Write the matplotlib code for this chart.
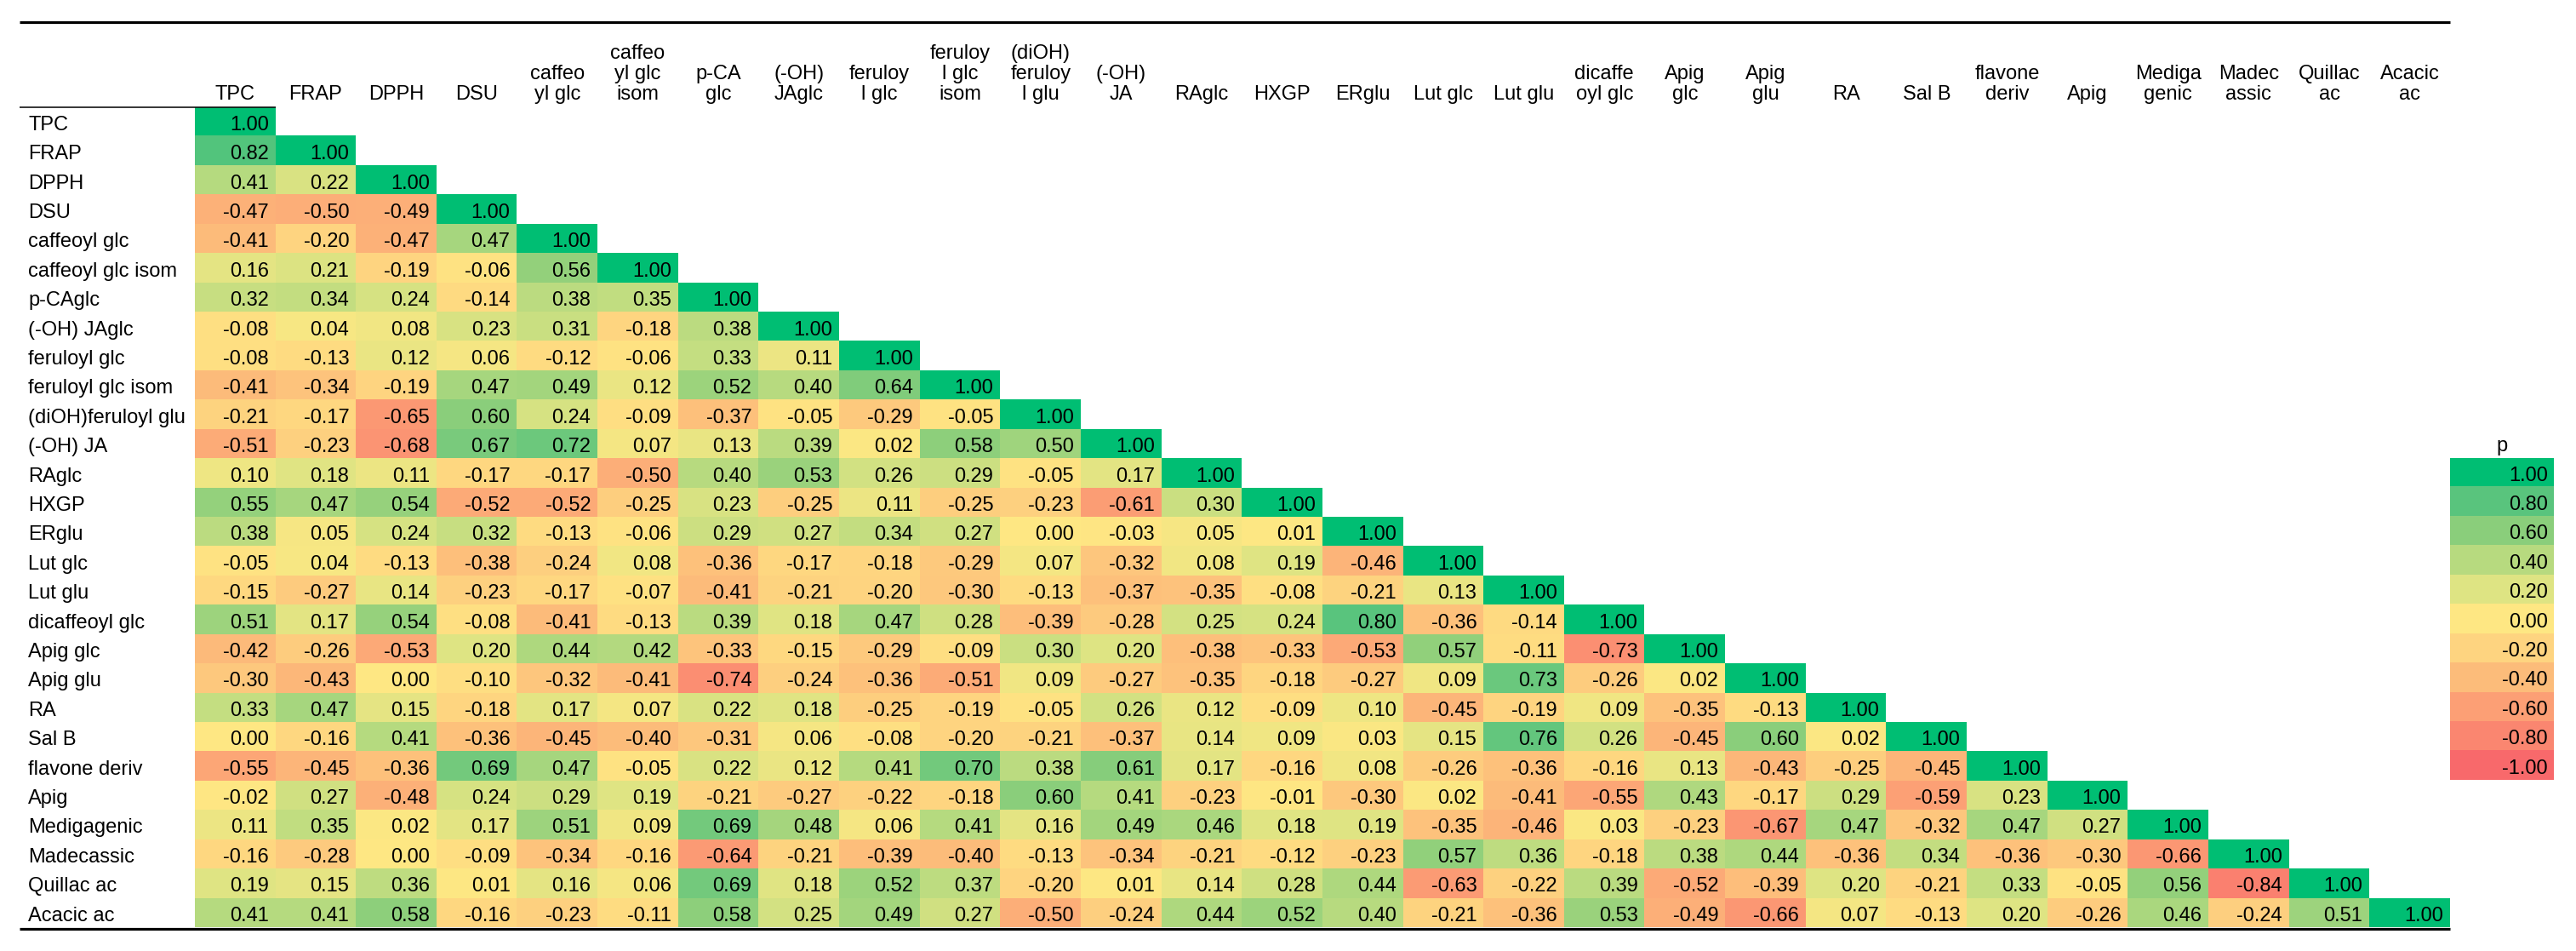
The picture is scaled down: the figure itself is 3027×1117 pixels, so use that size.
import numpy as np
import matplotlib
matplotlib.use("Agg")
import matplotlib.pyplot as plt
from matplotlib.colors import LinearSegmentedColormap, Normalize

plt.rcParams['font.family'] = ['Liberation Sans', 'DejaVu Sans']

# variable names (rows) and the wrapped header text (columns)
row_labels = ["TPC", "FRAP", "DPPH", "DSU", "caffeoyl glc", "caffeoyl glc isom",
              "p-CAglc", "(-OH) JAglc", "feruloyl glc", "feruloyl glc isom",
              "(diOH)feruloyl glu", "(-OH) JA", "RAglc", "HXGP", "ERglu",
              "Lut glc", "Lut glu", "dicaffeoyl glc", "Apig glc", "Apig glu",
              "RA", "Sal B", "flavone deriv", "Apig", "Medigagenic",
              "Madecassic", "Quillac ac", "Acacic ac"]

col_labels = ["TPC", "FRAP", "DPPH", "DSU", "caffeo\nyl glc", "caffeo\nyl glc\nisom",
              "p-CA\nglc", "(-OH)\nJAglc", "feruloy\nl glc", "feruloy\nl glc\nisom",
              "(diOH)\nferuloy\nl glu", "(-OH)\nJA", "RAglc", "HXGP", "ERglu",
              "Lut glc", "Lut glu", "dicaffe\noyl glc", "Apig\nglc", "Apig\nglu",
              "RA", "Sal B", "flavone\nderiv", "Apig", "Mediga\ngenic",
              "Madec\nassic", "Quillac\nac", "Acacic\nac"]

# lower triangle of the correlation table, one list per row
lower_tri = [
    [1.00],
    [0.82, 1.00],
    [0.41, 0.22, 1.00],
    [-0.47, -0.50, -0.49, 1.00],
    [-0.41, -0.20, -0.47, 0.47, 1.00],
    [0.16, 0.21, -0.19, -0.06, 0.56, 1.00],
    [0.32, 0.34, 0.24, -0.14, 0.38, 0.35, 1.00],
    [-0.08, 0.04, 0.08, 0.23, 0.31, -0.18, 0.38, 1.00],
    [-0.08, -0.13, 0.12, 0.06, -0.12, -0.06, 0.33, 0.11, 1.00],
    [-0.41, -0.34, -0.19, 0.47, 0.49, 0.12, 0.52, 0.40, 0.64, 1.00],
    [-0.21, -0.17, -0.65, 0.60, 0.24, -0.09, -0.37, -0.05, -0.29, -0.05, 1.00],
    [-0.51, -0.23, -0.68, 0.67, 0.72, 0.07, 0.13, 0.39, 0.02, 0.58, 0.50, 1.00],
    [0.10, 0.18, 0.11, -0.17, -0.17, -0.50, 0.40, 0.53, 0.26, 0.29, -0.05, 0.17, 1.00],
    [0.55, 0.47, 0.54, -0.52, -0.52, -0.25, 0.23, -0.25, 0.11, -0.25, -0.23, -0.61, 0.30, 1.00],
    [0.38, 0.05, 0.24, 0.32, -0.13, -0.06, 0.29, 0.27, 0.34, 0.27, 0.00, -0.03, 0.05, 0.01, 1.00],
    [-0.05, 0.04, -0.13, -0.38, -0.24, 0.08, -0.36, -0.17, -0.18, -0.29, 0.07, -0.32, 0.08, 0.19,
     -0.46, 1.00],
    [-0.15, -0.27, 0.14, -0.23, -0.17, -0.07, -0.41, -0.21, -0.20, -0.30, -0.13, -0.37, -0.35, -0.08,
     -0.21, 0.13, 1.00],
    [0.51, 0.17, 0.54, -0.08, -0.41, -0.13, 0.39, 0.18, 0.47, 0.28, -0.39, -0.28, 0.25, 0.24,
     0.80, -0.36, -0.14, 1.00],
    [-0.42, -0.26, -0.53, 0.20, 0.44, 0.42, -0.33, -0.15, -0.29, -0.09, 0.30, 0.20, -0.38, -0.33,
     -0.53, 0.57, -0.11, -0.73, 1.00],
    [-0.30, -0.43, 0.00, -0.10, -0.32, -0.41, -0.74, -0.24, -0.36, -0.51, 0.09, -0.27, -0.35, -0.18,
     -0.27, 0.09, 0.73, -0.26, 0.02, 1.00],
    [0.33, 0.47, 0.15, -0.18, 0.17, 0.07, 0.22, 0.18, -0.25, -0.19, -0.05, 0.26, 0.12, -0.09,
     0.10, -0.45, -0.19, 0.09, -0.35, -0.13, 1.00],
    [0.00, -0.16, 0.41, -0.36, -0.45, -0.40, -0.31, 0.06, -0.08, -0.20, -0.21, -0.37, 0.14, 0.09,
     0.03, 0.15, 0.76, 0.26, -0.45, 0.60, 0.02, 1.00],
    [-0.55, -0.45, -0.36, 0.69, 0.47, -0.05, 0.22, 0.12, 0.41, 0.70, 0.38, 0.61, 0.17, -0.16,
     0.08, -0.26, -0.36, -0.16, 0.13, -0.43, -0.25, -0.45, 1.00],
    [-0.02, 0.27, -0.48, 0.24, 0.29, 0.19, -0.21, -0.27, -0.22, -0.18, 0.60, 0.41, -0.23, -0.01,
     -0.30, 0.02, -0.41, -0.55, 0.43, -0.17, 0.29, -0.59, 0.23, 1.00],
    [0.11, 0.35, 0.02, 0.17, 0.51, 0.09, 0.69, 0.48, 0.06, 0.41, 0.16, 0.49, 0.46, 0.18,
     0.19, -0.35, -0.46, 0.03, -0.23, -0.67, 0.47, -0.32, 0.47, 0.27, 1.00],
    [-0.16, -0.28, 0.00, -0.09, -0.34, -0.16, -0.64, -0.21, -0.39, -0.40, -0.13, -0.34, -0.21, -0.12,
     -0.23, 0.57, 0.36, -0.18, 0.38, 0.44, -0.36, 0.34, -0.36, -0.30, -0.66, 1.00],
    [0.19, 0.15, 0.36, 0.01, 0.16, 0.06, 0.69, 0.18, 0.52, 0.37, -0.20, 0.01, 0.14, 0.28,
     0.44, -0.63, -0.22, 0.39, -0.52, -0.39, 0.20, -0.21, 0.33, -0.05, 0.56, -0.84, 1.00],
    [0.41, 0.41, 0.58, -0.16, -0.23, -0.11, 0.58, 0.25, 0.49, 0.27, -0.50, -0.24, 0.44, 0.52,
     0.40, -0.21, -0.36, 0.53, -0.49, -0.66, 0.07, -0.13, 0.20, -0.26, 0.46, -0.24, 0.51, 1.00],
]

legend_values = [1.00, 0.80, 0.60, 0.40, 0.20, 0.00, -0.20, -0.40, -0.60, -0.80, -1.00]

# colour scale picked off the legend swatches (red -> yellow -> green)
scale_colors = ["#F8696B", "#FB8771", "#FC9F75", "#FDBD7B", "#FED480", "#FFE884",
                "#DEE483", "#B8DB80", "#8ACE7B", "#5BC57E", "#00BE73"]
cmap = LinearSegmentedColormap.from_list("rdylgn_xl", scale_colors)
norm = Normalize(-1, 1)

n = len(row_labels)
corr = np.full((n, n), np.nan)
for i, row in enumerate(lower_tri):
    corr[i, :len(row)] = row
corr = np.ma.masked_invalid(corr)

# page geometry in pixels
W, H = 3027, 1117
x0, x1 = 229, 2879
y0, y1 = 125.7, 1089
cw = (x1 - x0) / n
rh = (y1 - y0) / n
fs = 17

fig = plt.figure(figsize=(W / 100, H / 100), dpi=100)
ax = fig.add_axes([x0 / W, 1 - y1 / H, (x1 - x0) / W, (y1 - y0) / H])
ax.imshow(corr, cmap=cmap, norm=norm, aspect='auto', interpolation='nearest',
          extent=(-0.5, n - 0.5, n - 0.5, -0.5))
ax.set_xlim(-0.5, n - 0.5)
ax.set_ylim(n - 0.5, -0.5)
ax.axis('off')

for i in range(n):
    for j in range(len(lower_tri[i])):
        ax.text(j + 0.5 - 8 / cw, i + 0.285, f"{lower_tri[i][j]:.2f}",
                ha='right', va='baseline', fontsize=fs)

left = -0.5 - (x0 - 33) / cw
for i, lab in enumerate(row_labels):
    ax.text(left, i + 0.285, lab, ha='left', va='baseline', fontsize=fs, clip_on=False)

head_y = -0.5 - (y0 - 117) / rh
for j, lab in enumerate(col_labels):
    ax.text(j, head_y, lab, ha='center', va='baseline', fontsize=fs,
            linespacing=1.12, multialignment='center', clip_on=False)

# table rules
line_x0 = -0.5 - (x0 - 23) / cw
top_y = -0.5 - (y0 - 26) / rh
ax.plot([line_x0, n - 0.5], [top_y, top_y], color='black', lw=2.3,
        solid_capstyle='butt', clip_on=False)
ax.plot([line_x0, 0.5], [-0.5, -0.5], color='black', lw=1.1,
        solid_capstyle='butt', clip_on=False)
ax.plot([line_x0, n - 0.5], [n - 0.5 + 1.5 / rh, n - 0.5 + 1.5 / rh], color='black', lw=2.3,
        solid_capstyle='butt', clip_on=False)

# colour legend
lx0, lw_px, ly0 = 2879, 122, 537.5
nl = len(legend_values)
lax = fig.add_axes([lx0 / W, 1 - (ly0 + nl * rh) / H, lw_px / W, nl * rh / H])
lax.imshow(np.array(legend_values)[:, None], cmap=cmap, norm=norm, aspect='auto',
           interpolation='nearest', extent=(-0.5, 0.5, nl - 0.5, -0.5))
lax.set_xlim(-0.5, 0.5)
lax.set_ylim(nl - 0.5, -0.5)
lax.axis('off')
for k, v in enumerate(legend_values):
    lax.text(0.5 - 7 / lw_px, k + 0.285, f"{v:.2f}", ha='right', va='baseline', fontsize=fs)
lax.text((2940 - lx0) / lw_px - 0.5, -0.5 - (ly0 - 530) / rh, "p", ha='center',
         va='baseline', fontsize=fs, clip_on=False)

fig.savefig("out.png", dpi=100)
